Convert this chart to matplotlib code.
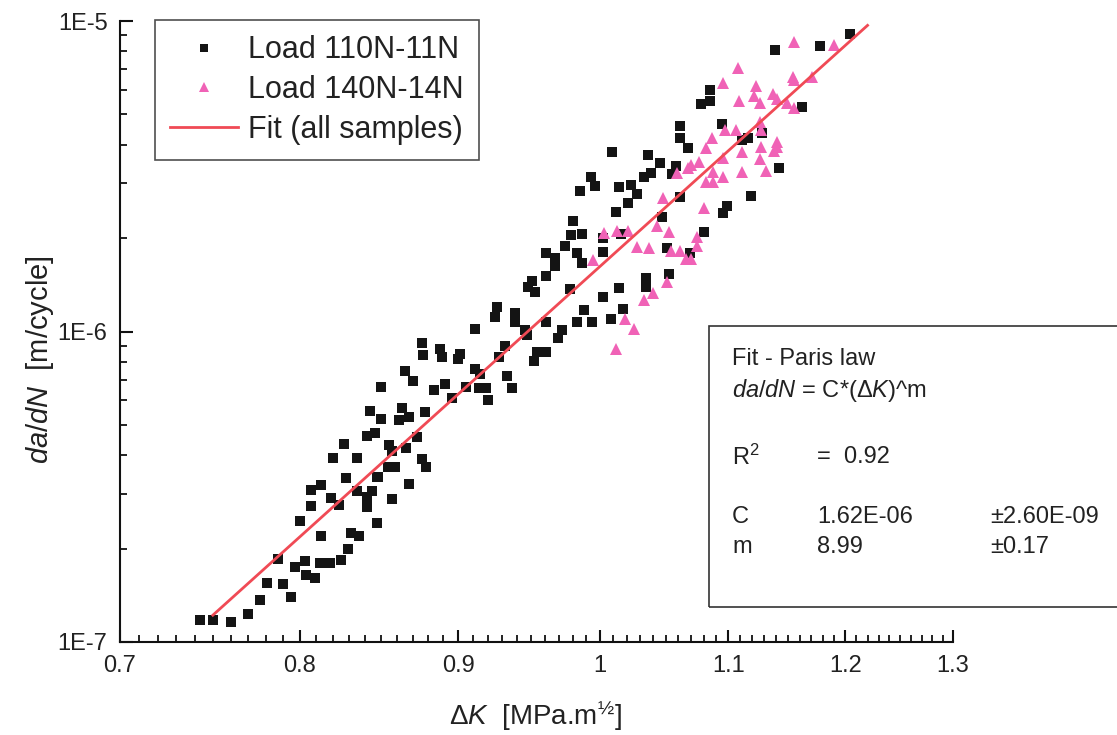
import numpy as np
import matplotlib
matplotlib.use("Agg")
import matplotlib.pyplot as plt
from matplotlib.ticker import FixedLocator, FixedFormatter, NullFormatter
from matplotlib.patches import Rectangle
from matplotlib.lines import Line2D

# Crack growth rate data, load 110N-11N
dk_110 = [0.743, 0.750, 0.760, 0.770, 0.777, 0.781, 0.790, 0.795, 0.787, 0.797,
          0.803, 0.804, 0.809, 0.812, 0.818, 0.825, 0.829, 0.831, 0.836, 0.813,
          0.800, 0.807, 0.807, 0.813, 0.819, 0.824, 0.828, 0.835, 0.841, 0.844,
          0.841, 0.847, 0.847, 0.876, 0.877, 0.865, 0.870, 0.850, 0.843, 0.850,
          0.863, 0.861, 0.868, 0.878, 0.846, 0.841, 0.827, 0.855, 0.857, 0.866,
          0.873, 0.820, 0.835, 0.876, 0.879, 0.854, 0.859, 0.848, 0.868, 0.857,
          0.926, 0.925, 0.939, 0.939, 0.946, 0.911, 0.932, 0.928, 0.888, 0.889,
          0.901, 0.900, 0.911, 0.915, 0.933, 0.891, 0.884, 0.905, 0.914, 0.919,
          0.937, 0.896, 0.988, 0.983, 0.994, 1.008, 0.961, 0.947, 0.972, 0.969,
          0.954, 0.961, 0.952, 0.920, 1.009, 0.993, 0.996, 0.985, 1.014, 1.012,
          0.980, 0.979, 0.987, 1.002, 0.974, 0.961, 0.967, 0.967, 0.983, 0.987,
          1.002, 0.961, 0.951, 0.948, 0.953, 0.978, 1.002, 1.014, 1.139, 1.178,
          1.204, 1.085, 1.078, 1.085, 1.162, 1.061, 1.061, 1.068, 1.095, 1.128,
          1.111, 1.116, 1.036, 1.046, 1.058, 1.055, 1.039, 1.033, 1.142, 1.023,
          1.028, 1.061, 1.119, 1.021, 1.099, 1.096, 1.047, 1.080, 1.051, 1.069,
          1.016, 1.053, 1.035, 1.035, 1.017]
rate_110 = [1.18e-7, 1.18e-7, 1.16e-7, 1.23e-7, 1.37e-7, 1.55e-7, 1.54e-7, 1.40e-7, 1.85e-7, 1.75e-7,
            1.82e-7, 1.64e-7, 1.61e-7, 1.80e-7, 1.80e-7, 1.84e-7, 1.99e-7, 2.25e-7, 2.19e-7, 2.19e-7,
            2.46e-7, 2.74e-7, 3.09e-7, 3.20e-7, 2.91e-7, 2.76e-7, 3.38e-7, 3.07e-7, 2.94e-7, 3.07e-7,
            2.72e-7, 2.42e-7, 3.40e-7, 9.18e-7, 8.40e-7, 7.46e-7, 6.93e-7, 6.63e-7, 5.55e-7, 5.23e-7,
            5.68e-7, 5.19e-7, 5.31e-7, 5.50e-7, 4.72e-7, 4.61e-7, 4.35e-7, 4.32e-7, 4.13e-7, 4.22e-7,
            4.58e-7, 3.92e-7, 3.92e-7, 3.89e-7, 3.66e-7, 3.66e-7, 3.66e-7, 3.40e-7, 3.23e-7, 2.89e-7,
            1.20e-6, 1.11e-6, 1.15e-6, 1.07e-6, 1.01e-6, 1.02e-6, 9.00e-7, 8.28e-7, 8.79e-7, 8.28e-7,
            8.46e-7, 8.16e-7, 7.57e-7, 7.30e-7, 7.19e-7, 6.78e-7, 6.48e-7, 6.63e-7, 6.58e-7, 6.58e-7,
            6.58e-7, 6.10e-7, 1.17e-6, 1.07e-6, 1.07e-6, 1.10e-6, 1.07e-6, 9.75e-7, 1.01e-6, 9.53e-7,
            8.60e-7, 8.60e-7, 8.03e-7, 6.00e-7, 3.79e-6, 3.15e-6, 2.94e-6, 2.84e-6, 2.92e-6, 2.43e-6,
            2.27e-6, 2.05e-6, 2.06e-6, 2.00e-6, 1.89e-6, 1.79e-6, 1.73e-6, 1.62e-6, 1.79e-6, 1.66e-6,
            1.80e-6, 1.51e-6, 1.45e-6, 1.39e-6, 1.34e-6, 1.37e-6, 1.29e-6, 1.38e-6, 8.07e-6, 8.30e-6,
            9.08e-6, 6.00e-6, 5.41e-6, 5.53e-6, 5.29e-6, 4.59e-6, 4.20e-6, 3.91e-6, 4.66e-6, 4.37e-6,
            4.15e-6, 4.20e-6, 3.71e-6, 3.50e-6, 3.42e-6, 3.22e-6, 3.24e-6, 3.15e-6, 3.36e-6, 2.97e-6,
            2.77e-6, 2.71e-6, 2.73e-6, 2.59e-6, 2.54e-6, 2.41e-6, 2.33e-6, 2.09e-6, 1.86e-6, 1.79e-6,
            2.06e-6, 1.53e-6, 1.49e-6, 1.39e-6, 1.18e-6]

# Crack growth rate data, load 140N-14N
dk_140 = [1.155, 1.190, 1.108, 1.096, 1.123, 1.109, 1.121, 1.126, 1.154, 1.155,
          1.171, 1.137, 1.141, 1.149, 1.155, 1.097, 1.106, 1.126, 1.127, 1.087,
          1.082, 1.111, 1.127, 1.141, 1.141, 1.138, 1.096, 1.126, 1.076, 1.070,
          1.068, 1.059, 1.088, 1.111, 1.131, 1.096, 1.082, 1.088, 1.048, 1.080,
          1.043, 1.053, 1.075, 1.075, 1.054, 1.061, 1.066, 1.070, 1.037, 1.028,
          1.003, 1.013, 1.021, 0.995, 1.051, 1.040, 1.033, 1.019, 1.026, 1.012]
rate_140 = [8.56e-6, 8.37e-6, 7.06e-6, 6.30e-6, 6.18e-6, 5.53e-6, 5.74e-6, 5.45e-6, 6.60e-6, 6.46e-6,
            6.60e-6, 5.82e-6, 5.61e-6, 5.45e-6, 5.25e-6, 4.46e-6, 4.46e-6, 4.73e-6, 4.46e-6, 4.20e-6,
            3.91e-6, 3.79e-6, 3.94e-6, 4.08e-6, 3.94e-6, 3.82e-6, 3.62e-6, 3.60e-6, 3.52e-6, 3.45e-6,
            3.36e-6, 3.24e-6, 3.26e-6, 3.26e-6, 3.29e-6, 3.15e-6, 3.03e-6, 3.03e-6, 2.69e-6, 2.50e-6,
            2.19e-6, 2.09e-6, 2.01e-6, 1.89e-6, 1.82e-6, 1.82e-6, 1.71e-6, 1.71e-6, 1.86e-6, 1.87e-6,
            2.08e-6, 2.11e-6, 2.11e-6, 1.70e-6, 1.44e-6, 1.33e-6, 1.26e-6, 1.10e-6, 1.02e-6, 8.79e-7]

# Paris law fit parameters
C_fit = 1.62e-6
C_err = 2.60e-9
m_fit = 8.99
m_err = 0.17
r_squared = 0.92
fit_dk_range = [0.75, 1.22]

x_ticks = [0.7, 0.8, 0.9, 1.0, 1.1, 1.2, 1.3]
x_tick_labels = ["0.7", "0.8", "0.9", "1", "1.1", "1.2", "1.3"]
y_ticks = [1e-7, 1e-6, 1e-5]
y_tick_labels = ["1E-7", "1E-6", "1E-5"]

plt.rcParams["font.family"] = ["Liberation Sans", "DejaVu Sans"]
plt.rcParams["mathtext.fontset"] = "custom"
plt.rcParams["mathtext.rm"] = "Liberation Sans"
plt.rcParams["mathtext.it"] = "Liberation Sans:italic"
plt.rcParams["mathtext.bf"] = "Liberation Sans:bold"

W, H = 1117, 735
fig = plt.figure(figsize=(W / 100, H / 100), dpi=100)
ax = fig.add_axes([120 / W, 1 - 642 / H, (953 - 120) / W, (642 - 21) / H])

black = "#141414"
pink = "#F062B6"
red = "#F04A55"

ax.plot(dk_110, rate_110, ls="none", marker="s", ms=7.3, mfc=black, mec=black,
        mew=0, zorder=3)
ax.plot(dk_140, rate_140, ls="none", marker="^", ms=8.2, mfc=pink, mec=pink,
        mew=0, zorder=3)

dk_line = np.linspace(fit_dk_range[0], fit_dk_range[1], 200)
ax.plot(dk_line, C_fit * dk_line ** m_fit, color=red, lw=2.0, zorder=4)

ax.set_xscale("log")
ax.set_yscale("log")
ax.set_xlim(0.7, 1.3)
ax.set_ylim(1e-7, 1e-5)

ax.xaxis.set_major_locator(FixedLocator(x_ticks))
ax.xaxis.set_major_formatter(FixedFormatter(x_tick_labels))
x_minor = [v / 100 for v in range(70, 131) if v % 10 != 0]
ax.xaxis.set_minor_locator(FixedLocator(x_minor))
ax.xaxis.set_minor_formatter(NullFormatter())

ax.yaxis.set_major_locator(FixedLocator(y_ticks))
ax.yaxis.set_major_formatter(FixedFormatter(y_tick_labels))
y_minor = [k * 10.0 ** e for e in (-7, -6) for k in range(2, 10)]
ax.yaxis.set_minor_locator(FixedLocator(y_minor))
ax.yaxis.set_minor_formatter(NullFormatter())

for s in ("top", "right"):
    ax.spines[s].set_visible(False)
for s in ("left", "bottom"):
    ax.spines[s].set_linewidth(1.5)
    ax.spines[s].set_color("#111111")

ax.tick_params(which="major", direction="in", length=9, width=1.5, color="#111111",
               labelsize=17, pad=9)
ax.tick_params(which="minor", direction="in", length=5, width=1.3, color="#111111")
for lab in ax.get_xticklabels() + ax.get_yticklabels():
    lab.set_fontstretch("condensed")
    lab.set_color("#222222")

ax.set_xlabel(r"$\Delta\mathit{K}$  [MPa.m$^{½}$]", fontsize=20, color="#222222")
ax.xaxis.set_label_coords(536 / W, 1 - 716 / H, transform=fig.transFigure)
ax.xaxis.label.set_va("center")
ax.set_ylabel(r"$\mathit{da/dN}$  [m/cycle]", fontsize=21, color="#222222")
ax.yaxis.set_label_coords(40 / W, 1 - 360 / H, transform=fig.transFigure)
ax.yaxis.label.set_va("center")

handles = [
    Line2D([], [], ls="none", marker="s", ms=6.4, mfc=black, mec=black, mew=0),
    Line2D([], [], ls="none", marker="^", ms=7.2, mfc=pink, mec=pink, mew=0),
    Line2D([], [], color=red, lw=2.0),
]
leg = ax.legend(handles, ["Load 110N-11N", "Load 140N-14N", "Fit (all samples)"],
                loc="upper left", bbox_to_anchor=(155 / W, 1 - 20 / H),
                bbox_transform=fig.transFigure, borderaxespad=0, fontsize=22,
                frameon=True, fancybox=False, edgecolor="#222222",
                handlelength=2.2, handletextpad=0.35, labelspacing=0.32,
                borderpad=0.5)
leg.get_frame().set_linewidth(1.2)
for t in leg.get_texts():
    t.set_color("#222222")

# Fit summary box
box = Rectangle((709 / W, 1 - 607 / H), (W + 10 - 709) / W, (607 - 326) / H,
                transform=fig.transFigure, fill=False, lw=1.2, ec="#333333",
                clip_on=False)
fig.patches.append(box)

def ftext(px, py, s, **kw):
    fig.text(px / W, 1 - py / H, s, fontsize=17, color="#222222", va="center",
             ha="left", **kw)

ftext(732, 359, "Fit - Paris law")
ftext(732, 390, r"$\mathit{da/dN}$ = C*($\Delta\mathit{K}$)^m")
ftext(732, 457, r"R$^{2}$")
ftext(817, 457, f"=  {r_squared:.2f}")
ftext(732, 517, "C")
ftext(817, 517, f"{C_fit:.2E}")
ftext(990, 517, f"±{C_err:.2E}")
ftext(732, 547, "m")
ftext(817, 547, f"{m_fit:.2f}")
ftext(990, 547, f"±{m_err:.2f}")

fig.savefig("out.png", dpi=100, facecolor="white")
